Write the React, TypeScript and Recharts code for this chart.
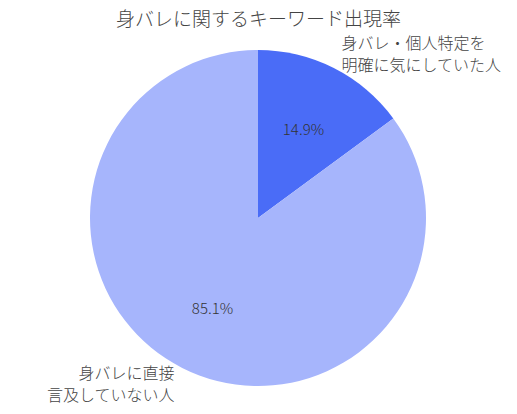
import { Cell, Pie, PieChart } from "recharts";

const title = "身バレに関するキーワード出現率";

const names = [
    ["身バレ・個人特定を", "明確に気にしていた人"],
    ["身バレに直接", "言及していない人"],
];

const values = [14.9, 85.1];

const colors = ["#4a6cf7", "#a6b5fc"];

const data = values.map((value, i) => ({ name: names[i].join(""), value }));

const RADIAN = Math.PI / 180;
const font = "'Noto Sans CJK JP', 'Noto Sans', sans-serif";

const renderLabel = (props: any) => {
    const { cx, cy, midAngle, outerRadius, index, value } = props;
    const cos = Math.cos(-midAngle * RADIAN);
    const sin = Math.sin(-midAngle * RADIAN);
    const ir = outerRadius * 0.6;
    const or = outerRadius + 17;
    const ox = cx + or * cos;
    const oy = cy + or * sin;
    const anchor = ox > cx ? "start" : "end";
    const lines = names[index];
    return (
        <g>
            <text
                x={cx + ir * cos}
                y={cy + ir * sin}
                textAnchor="middle"
                dominantBaseline="central"
                fill="#333"
                fontSize={15}
                fontWeight={200}
                fontFamily={font}
            >
                {value.toFixed(1)}%
            </text>
            {lines.map((line, i) => (
                <text
                    key={i}
                    x={ox}
                    y={oy + (i - 0.5) * 22}
                    textAnchor={anchor}
                    dominantBaseline="central"
                    fill="#444"
                    fontSize={16}
                    fontWeight={200}
                    fontFamily={font}
                >
                    {line}
                </text>
            ))}
        </g>
    );
};

export default function App() {
    return (
        <div style={{ position: "absolute", left: 0, top: 0, width: 517, height: 414, background: "#fff" }}>
            <div
                style={{
                    position: "absolute",
                    left: 0,
                    top: 5,
                    width: 517,
                    textAlign: "center",
                    fontFamily: font,
                    fontWeight: 200,
                    fontSize: 19,
                    color: "#444",
                    lineHeight: "26px",
                }}
            >
                {title}
            </div>
            <PieChart width={517} height={414} margin={{ top: 0, right: 0, bottom: 0, left: 0 }}>
                <Pie
                    data={data}
                    dataKey="value"
                    nameKey="name"
                    cx={258}
                    cy={218}
                    outerRadius={168}
                    startAngle={90}
                    endAngle={-270}
                    stroke="none"
                    label={renderLabel}
                    labelLine={false}
                    isAnimationActive={false}
                >
                    {data.map((_, index) => (
                        <Cell key={index} fill={colors[index]} />
                    ))}
                </Pie>
            </PieChart>
        </div>
    );
}
